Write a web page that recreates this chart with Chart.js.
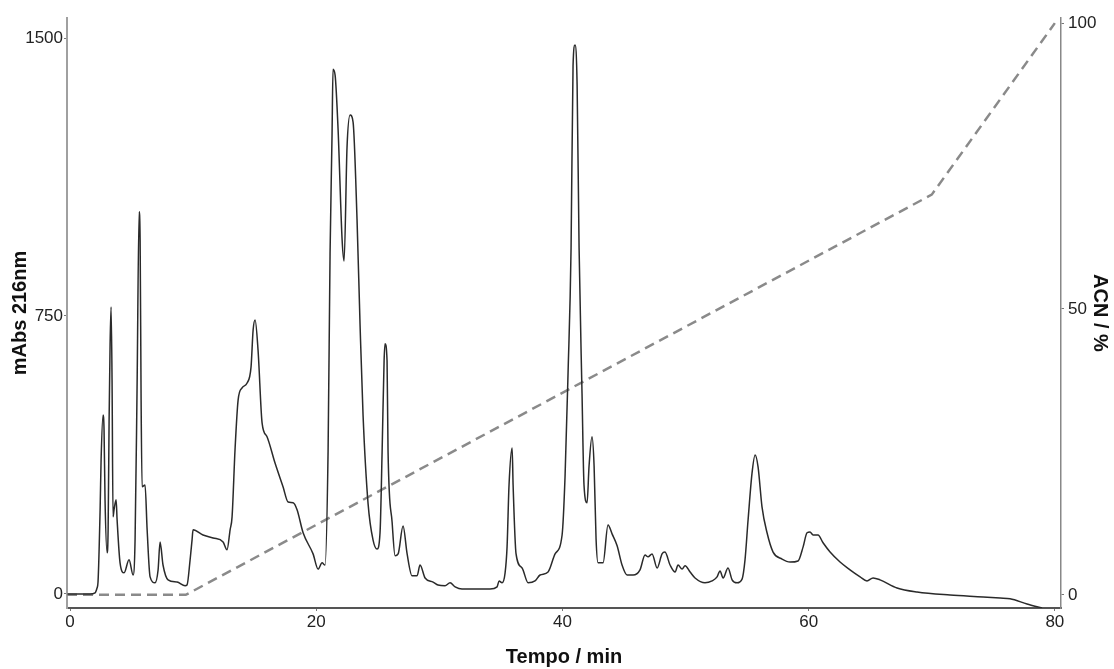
<!DOCTYPE html>
<html>
<head>
<meta charset="utf-8">
<script src="https://cdn.jsdelivr.net/npm/chart.js@4/dist/chart.umd.min.js"></script>
<style>
    body { margin: 0; background: #fff; }
    #wrap { width: 1114px; height: 669px; }
</style>
</head>
<body>
<div id="wrap"><canvas id="cromatograma" width="1114" height="669"></canvas></div>
<script>
const tempo = [
    -0.2, 0.81, 1.62, 2.03, 2.19, 2.27, 2.44, 2.52, 2.68, 2.76,
    2.84, 3.01, 3.09, 3.17, 3.25, 3.33, 3.41, 3.49, 3.57, 3.74,
    3.82, 4.06, 4.39, 4.79, 5.12, 5.28, 5.44, 5.61, 5.69, 5.77,
    5.85, 6.09, 6.26, 6.50, 6.90, 7.15, 7.31, 7.55, 7.96, 8.69,
    9.34, 9.50, 9.75, 9.91, 9.99, 10.80, 11.62, 12.43, 12.75, 13.00,
    13.16, 13.40, 13.65, 13.97, 14.38, 14.70, 14.87, 15.03, 15.27, 15.60,
    16.00, 16.65, 17.30, 17.71, 18.12, 18.44, 18.93, 19.74, 20.15, 20.47,
    20.71, 20.96, 21.12, 21.28, 21.36, 21.53, 21.77, 22.10, 22.26, 22.50,
    22.75, 22.99, 23.31, 23.56, 23.80, 24.21, 24.61, 24.94, 25.18, 25.35,
    25.51, 25.59, 25.75, 25.83, 26.16, 26.40, 26.65, 27.05, 27.38, 27.78,
    28.19, 28.43, 28.84, 29.49, 29.89, 30.46, 30.87, 31.28, 31.84, 32.49,
    33.31, 34.12, 34.69, 34.85, 35.09, 35.34, 35.50, 35.66, 35.91, 35.99,
    36.23, 36.72, 37.21, 37.77, 38.18, 38.83, 39.40, 39.97, 40.21, 40.45,
    40.70, 40.86, 41.02, 41.19, 41.35, 41.59, 41.75, 42.00, 42.16, 42.40,
    42.57, 42.73, 42.89, 43.30, 43.70, 44.03, 44.44, 44.84, 45.25, 45.74,
    46.30, 46.71, 46.95, 47.28, 47.69, 48.09, 48.33, 48.74, 49.15, 49.39,
    49.72, 49.96, 50.37, 50.77, 51.58, 52.15, 52.56, 52.80, 53.05, 53.45,
    53.78, 54.18, 54.59, 54.83, 55.08, 55.40, 55.65, 55.89, 56.21, 56.62,
    57.11, 57.84, 58.49, 59.14, 59.55, 59.87, 60.11, 60.36, 60.76, 61.17,
    61.74, 62.55, 63.36, 64.18, 64.74, 65.23, 65.80, 67.18, 68.81, 71.49,
    74.17, 75.55, 76.36, 77.74, 78.96
];
const absorbancia = [
    0, 0, 0, 3, 16, 32, 227, 362, 483, 442,
    254, 111, 173, 469, 672, 774, 577, 208, 227, 254,
    200, 84, 57, 92, 51, 146, 550, 1031, 955, 523,
    289, 294, 173, 46, 30, 65, 140, 78, 38, 32,
    22, 24, 92, 146, 173, 159, 151, 140, 119, 173,
    208, 389, 523, 556, 569, 612, 712, 739, 658, 461,
    424, 353, 289, 248, 246, 227, 165, 108, 67, 84,
    78, 386, 917, 1236, 1416, 1400, 1255, 955, 898, 1206,
    1292, 1273, 1012, 723, 483, 243, 146, 121, 165, 386,
    629, 675, 629, 386, 194, 103, 108, 183, 108, 49,
    49, 78, 43, 32, 24, 22, 30, 19, 13, 13,
    13, 13, 19, 35, 30, 57, 127, 294, 394, 294,
    108, 70, 30, 35, 51, 59, 108, 159, 316, 591,
    934, 1425, 1481, 1373, 934, 540, 294, 246, 345, 424,
    345, 148, 84, 84, 186, 162, 130, 78, 51, 51,
    65, 105, 100, 108, 70, 108, 113, 78, 59, 78,
    67, 76, 59, 43, 30, 35, 46, 62, 43, 70,
    38, 30, 40, 92, 200, 326, 375, 343, 235, 165,
    113, 94, 86, 89, 127, 165, 167, 159, 159, 138,
    113, 86, 65, 46, 35, 43, 38, 16, 5, -3,
    -8, -11, -13, -27, -38
];

// gradiente de acetonitrila
const gradTempo = [-0.25, 9.4, 70, 80];
const gradACN = [0, 0, 70, 100];

// ticks
const ticksTempo = [0, 20, 40, 60, 80];
const ticksAbs = [0, 750, 1500];
const ticksACN = [0, 50, 100];

const fonteTick = { family: 'Liberation Sans, Arial, sans-serif', size: 17 };
const fonteTitulo = { family: 'Liberation Sans, Arial, sans-serif', size: 20, weight: 'bold' };
const semVirgula = v => String(v);

const ctx = document.getElementById('cromatograma').getContext('2d');

new Chart(ctx, {
    type: 'line',
    data: {
        datasets: [
            {
                label: 'mAbs 216nm',
                data: tempo.map((t, i) => ({ x: t, y: absorbancia[i] })),
                borderColor: '#2a2a2a',
                borderWidth: 1.5,
                pointRadius: 0,
                cubicInterpolationMode: 'monotone',
                yAxisID: 'y'
            },
            {
                label: 'ACN / %',
                data: gradTempo.map((t, i) => ({ x: t, y: gradACN[i] })),
                borderColor: '#8a8a8a',
                borderWidth: 2.5,
                borderDash: [10, 6],
                pointRadius: 0,
                tension: 0,
                yAxisID: 'y2'
            }
        ]
    },
    options: {
        responsive: false,
        animation: false,
        layout: { padding: { top: 18, left: 0, right: 0, bottom: 0 } },
        plugins: {
            legend: { display: false },
            tooltip: { enabled: false }
        },
        scales: {
            x: {
                type: 'linear',
                min: -0.25,
                max: 80.5,
                afterBuildTicks: s => { s.ticks = ticksTempo.map(v => ({ value: v })); },
                afterFit: s => { s.height = 61; },
                ticks: { font: fonteTick, color: '#222', padding: 1, maxRotation: 0, callback: semVirgula },
                grid: { drawOnChartArea: false, tickLength: 3, color: '#777' },
                border: { color: '#555', width: 2 },
                title: { display: true, text: 'Tempo / min', font: fonteTitulo, color: '#111', padding: { top: 0, bottom: 0 } }
            },
            y: {
                position: 'left',
                min: -38,
                max: 1554,
                afterBuildTicks: s => { s.ticks = ticksAbs.map(v => ({ value: v })); },
                afterFit: s => { s.width = 67; },
                ticks: { font: fonteTick, color: '#222', padding: 1, callback: semVirgula },
                grid: { drawOnChartArea: false, tickLength: 3, color: '#777' },
                border: { color: '#a0a0a0', width: 2 },
                title: { display: true, text: 'mAbs 216nm', font: fonteTitulo, color: '#111', padding: { top: 8, bottom: 0 } }
            },
            y2: {
                position: 'right',
                min: -2.3,
                max: 100.9,
                afterBuildTicks: s => { s.ticks = ticksACN.map(v => ({ value: v })); },
                afterFit: s => { s.width = 53; },
                ticks: { font: fonteTick, color: '#222', padding: 4, callback: semVirgula },
                grid: { drawOnChartArea: false, tickLength: 3, color: '#777' },
                border: { color: '#888', width: 1.5 },
                title: { display: true, text: 'ACN / %', font: fonteTitulo, color: '#111', padding: { top: 2, bottom: 0 } }
            }
        }
    }
});
</script>
</body>
</html>
